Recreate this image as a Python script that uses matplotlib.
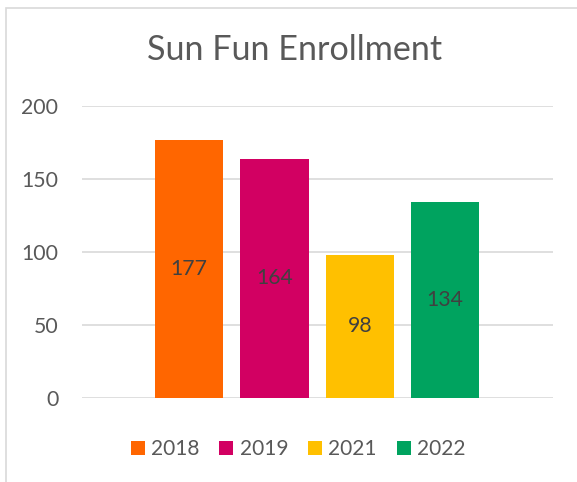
import matplotlib
matplotlib.use("Agg")
import matplotlib.pyplot as plt
from matplotlib.patches import Rectangle

# Data
years = ["2018", "2019", "2021", "2022"]
enrollment = [177, 164, 98, 134]
colors = ["#FF6600", "#D20062", "#FFC000", "#00A35F"]
y_ticks = [0, 50, 100, 150, 200]
title = "Sun Fun Enrollment"

plt.rcParams['font.family'] = ['Lato', 'DejaVu Sans']
text_color = "#595959"

W, H = 577, 482
fig = plt.figure(figsize=(W / 100, H / 100), dpi=100)

# Chart border (cropped on right and bottom)
fig.patches.append(Rectangle((6 / W, -0.1), 1.2, (H - 8) / H + 0.1,
                             transform=fig.transFigure, fill=False,
                             edgecolor="#D9D9D9", linewidth=1.2))

ax = fig.add_axes([82 / W, (H - 398) / H, (553 - 82) / W, (398 - 106) / H])

positions = list(range(len(years)))
bars = []
for i, (yr, val, c) in enumerate(zip(years, enrollment, colors)):
    b = ax.bar(positions[i], val, width=0.8, color=c, label=yr, zorder=3)
    bars.append(b)
    ax.bar_label(b, labels=[str(val)], label_type='center',
                 color="#404040", fontsize=15.3)

ax.set_xlim(-1.255, 4.265)
ax.set_ylim(0, 200)
ax.set_yticks(y_ticks)
ax.set_xticks([])
ax.grid(axis='y', color="#D9D9D9", linewidth=1.2, zorder=0)
for s in ax.spines.values():
    s.set_visible(False)
ax.tick_params(axis='y', length=0, pad=17, labelsize=15.3, labelcolor=text_color)

fig.text(294.5 / W, (H - 50) / H, title, ha='center', va='center',
         fontsize=24.6, color=text_color)

leg = fig.legend(handles=[b[0] for b in bars], labels=years,
                 loc='center', bbox_to_anchor=(298 / W, (H - 449) / H),
                 ncol=4, frameon=False, fontsize=15,
                 handlelength=0.68, handleheight=0.68, handletextpad=0.3,
                 columnspacing=0.95, borderaxespad=0, borderpad=0)
for t in leg.get_texts():
    t.set_color(text_color)

fig.savefig("out.png", dpi=100)
